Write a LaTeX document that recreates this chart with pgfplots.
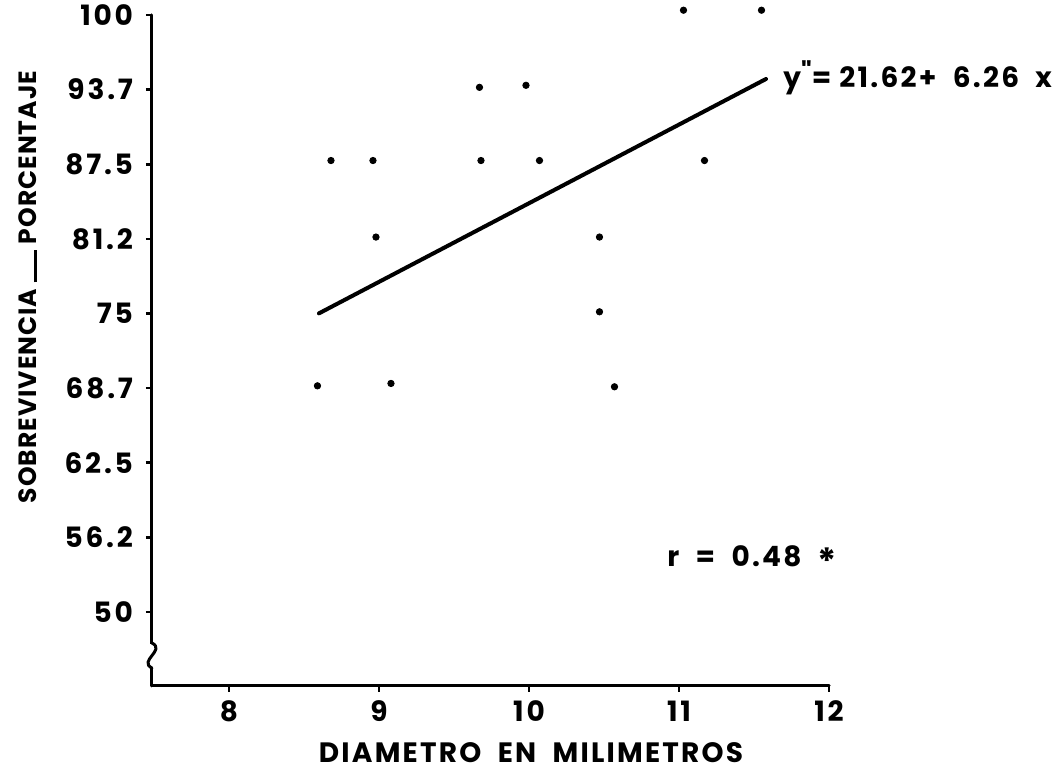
\documentclass[border=0pt]{standalone}
\usepackage{fontspec}
\setmainfont{Poppins}
\newfontfamily\lsa[LetterSpace=10]{Poppins}
\newfontfamily\lsb[LetterSpace=8]{Poppins}
\newfontfamily\lsc[LetterSpace=4]{Poppins}
\usepackage{pgfplots}
\pgfplotsset{compat=1.18}
\begin{document}
\begin{tikzpicture}[x=1pt,y=1pt]
\useasboundingbox (-76,-44) rectangle (451,343);
\begin{axis}[
  at={(0,0)}, anchor=south west,
  scale only axis, width=338.5pt, height=335.5pt,
  xmin=7.487, xmax=12, ymin=43.8, ymax=100,
  axis lines*=left,
  axis line style={line width=1.5pt, line cap=round},
  clip=false,
  tick align=outside,
  major tick length=3pt,
  tick style={line width=1.3pt, black},
  xtick={8,9,10,11,12},
  xticklabels={8,9,10,11,12},
  ytick={50,56.25,62.5,68.75,75,81.25,87.5,93.75,100},
  yticklabels={50,56.2,62.5,68.7,75,81.2,87.5,93.7,100},
  /pgf/number format/assume math mode=true,
  ticklabel style={font=\lsa\bfseries\fontsize{14}{14}\selectfont},
  yticklabel style={xshift=-3pt},
  xticklabel style={yshift=-1pt},
]
\addplot[only marks, mark=*, mark size=1.6pt, black] coordinates {
  (8.59,68.94) (8.68,87.81) (8.96,87.81) (8.98,81.40) (9.08,69.14)
  (9.67,93.94) (9.68,87.81) (9.98,94.11) (10.07,87.81)
  (10.47,81.40) (10.47,75.14) (10.57,68.86)
  (11.03,100.4) (11.55,100.4) (11.17,87.81)
};
\addplot[black, line width=2pt, line cap=round] coordinates {(8.60,75.01) (11.58,94.64)};
\fill[white] ([xshift=-2pt]axis cs:7.487,47.3) rectangle ([xshift=2pt]axis cs:7.487,45.3);
\draw[line width=1.5pt, line cap=round] (axis cs:7.487,47.4) .. controls ([xshift=7pt]axis cs:7.487,46.8) and ([xshift=-7pt]axis cs:7.487,45.9) .. (axis cs:7.487,45.3);
\end{axis}
\node[font=\lsb\bfseries\fontsize{14}{14}\selectfont, anchor=base, inner sep=0pt] at (189.5,-38.5) {DIAMETRO\ \ EN\ \ MILIMETROS};
\node[font=\lsc\bfseries\fontsize{12.5}{12.5}\selectfont, anchor=center, inner sep=0pt, rotate=90] at (-62,199.5) {SOBREVIVENCIA\ \rule{16pt}{1.5pt}\ PORCENTAJE};
\node[font=\lsb\bfseries\fontsize{14}{14}\selectfont, anchor=base west, inner sep=0pt] at (315.5,299) {y\raisebox{3pt}{\fontsize{13}{13}\selectfont "}= 21.62+\ \ 6.26\ \ x};
\node[font=\lsb\bfseries\fontsize{14}{14}\selectfont, anchor=base west, inner sep=0pt] at (257.5,59.5) {r \ = \ 0.48 \ \raisebox{-4pt}{\fontsize{18}{18}\selectfont *}};
\end{tikzpicture}
\end{document}
